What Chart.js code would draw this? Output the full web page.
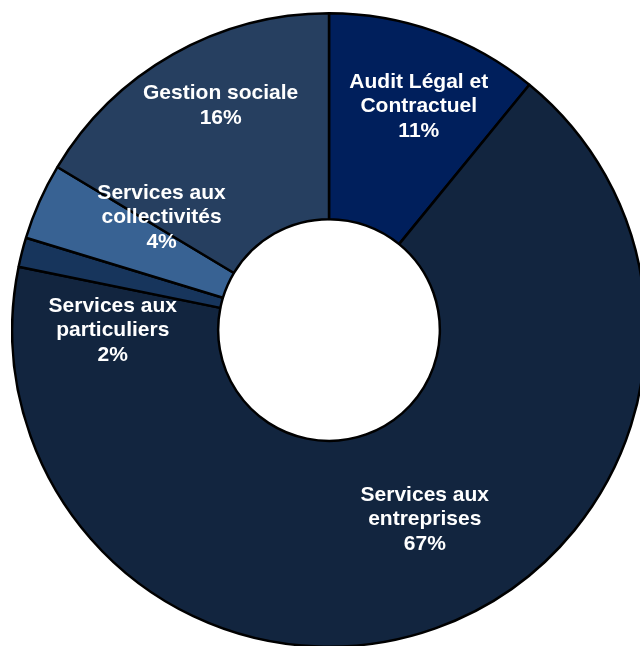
<!DOCTYPE html>
<html>
<head>
<meta charset="utf-8">
<script src="https://cdn.jsdelivr.net/npm/chart.js@4.4.1/dist/chart.umd.min.js"></script>
<style>
  html, body { margin: 0; padding: 0; width: 640px; height: 646px; overflow: hidden; background: #fff; }
  #wrap { position: absolute; left: 11px; top: 12px; width: 636px; height: 636px; }
</style>
</head>
<body>
<div id="wrap"><canvas id="c"></canvas></div>
<script>
const categories = [
  ["Audit Légal et", "Contractuel"],
  ["Services aux", "entreprises"],
  ["Services aux", "particuliers"],
  ["Services aux", "collectivités"],
  ["Gestion sociale"]
];
const values = [10.9, 67.3, 1.5, 3.9, 16.4];
const colors = ["#001F5C", "#12253F", "#17355C", "#386293", "#263F60"];
// label nudges relative to each arc's centre point (px)
const labelOffsets = [[18, -22], [24, -12], [-9, 53], [28, -26], [-3, -38]];

const total = values.reduce((a, b) => a + b, 0);

const labelPlugin = {
  id: 'sliceLabels',
  afterDatasetsDraw(chart) {
    const ctx = chart.ctx;
    const meta = chart.getDatasetMeta(0);
    ctx.save();
    ctx.fillStyle = '#ffffff';
    ctx.font = 'bold 21px "Liberation Sans", Arial, sans-serif';
    ctx.textAlign = 'center';
    ctx.textBaseline = 'middle';
    const lh = 24.5;
    meta.data.forEach((arc, i) => {
      const p = arc.tooltipPosition();
      const lines = categories[i].concat([Math.round(values[i] / total * 100) + '%']);
      const cx = p.x + labelOffsets[i][0];
      const cy = p.y + labelOffsets[i][1];
      const y0 = cy - (lines.length - 1) * lh / 2;
      lines.forEach((t, j) => ctx.fillText(t, cx, y0 + j * lh));
    });
    ctx.restore();
  }
};

new Chart(document.getElementById('c'), {
  type: 'doughnut',
  data: {
    labels: categories,
    datasets: [{
      data: values,
      backgroundColor: colors,
      borderColor: '#000000',
      borderWidth: 2.5,
      hoverOffset: 0
    }]
  },
  options: {
    responsive: true,
    maintainAspectRatio: false,
    animation: false,
    cutout: '35%',
    layout: { padding: 0 },
    plugins: {
      legend: { display: false },
      tooltip: { enabled: false }
    }
  },
  plugins: [labelPlugin]
});
</script>
</body>
</html>
